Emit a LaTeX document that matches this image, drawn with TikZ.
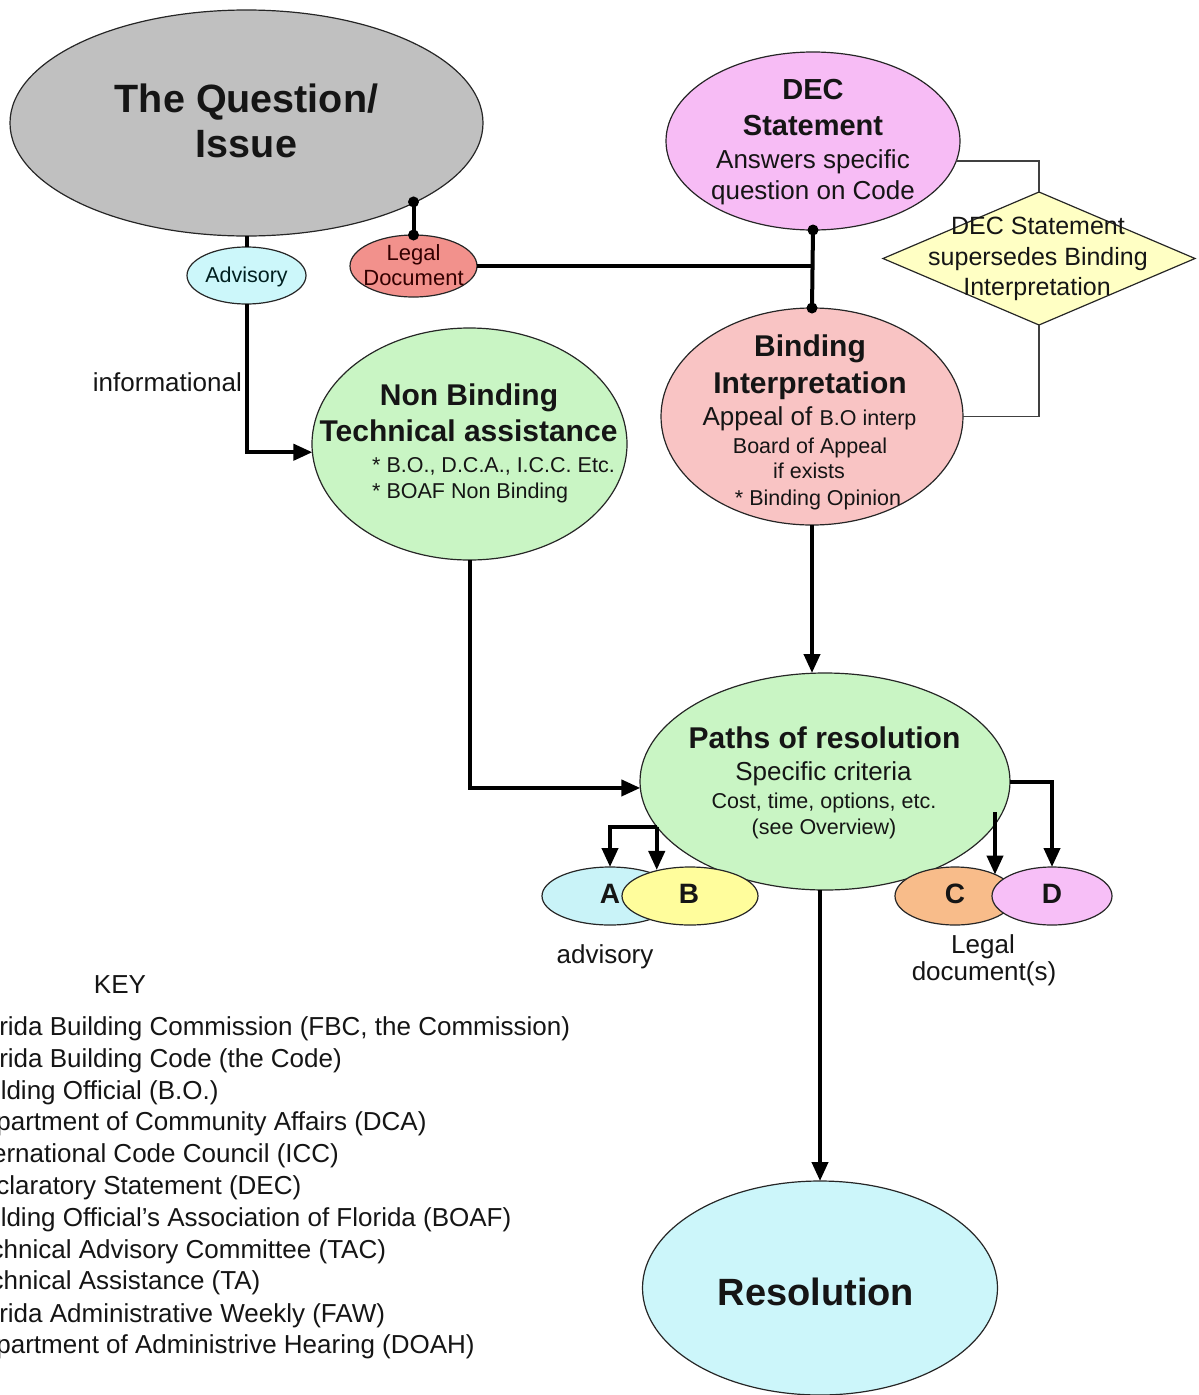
\documentclass[tikz,border=0pt]{standalone}
\usepackage{fontspec}
\setmainfont{Liberation Sans}
\usetikzlibrary{shapes.geometric,arrows.meta}
\newcommand\myfs[1]{\fontsize{#1pt}{#1pt}\selectfont}
\definecolor{qgray}{HTML}{C0C0C0}
\definecolor{advcyan}{HTML}{CCF7FA}
\definecolor{legalred}{HTML}{F2918C}
\definecolor{decpink}{HTML}{F7BCF5}
\definecolor{diayellow}{HTML}{FFFFC4}
\definecolor{bindpink}{HTML}{F9C4C4}
\definecolor{lgreen}{HTML}{C9F5C4}
\definecolor{acyan}{HTML}{C9F3F8}
\definecolor{byellow}{HTML}{FFFD9C}
\definecolor{corange}{HTML}{F8BC8A}
\definecolor{dpink}{HTML}{F7BFF7}
\definecolor{rescyan}{HTML}{CCF6FA}
\definecolor{txtc}{HTML}{151515}
\tikzset{
  shp/.style={draw=black!85, line width=1.2pt, inner sep=0pt, outer sep=0pt},
  ell/.style={shp, ellipse},
  conn/.style={line width=4pt, draw=black},
  thinln/.style={line width=1.6pt, draw=black!75},
  arr/.style={-{Triangle[length=19pt,width=16pt]}},
  dotc/.style={circle, fill=black, inner sep=0pt, minimum size=11pt},
  txt/.style={anchor=base, inner sep=0pt, text=txtc},
  txtw/.style={anchor=base west, inner sep=0pt, text=txtc},
  txte/.style={anchor=base east, inner sep=0pt, text=txtc},
}
\begin{document}
\begin{tikzpicture}[x=1pt,y=-1pt]
\useasboundingbox (0,0) rectangle (1199,1395);
% shapes
\node[ell, fill=qgray, minimum width=473pt, minimum height=226pt] (q) at (246.5,123) {};
\node[ell, fill=advcyan, minimum width=119pt, minimum height=57pt] (adv) at (246.5,275.5) {};
\node[ell, fill=legalred, minimum width=127pt, minimum height=62pt] (legal) at (413.5,266) {};
\node[ell, fill=decpink, minimum width=294pt, minimum height=178pt] (dec) at (813,141) {};
\node[shp, diamond, fill=diayellow, minimum width=312pt, minimum height=133pt] (dia) at (1039,258.5) {};
\node[ell, fill=bindpink, minimum width=302pt, minimum height=217pt] (bind) at (812,416.5) {};
\node[ell, fill=lgreen, minimum width=315pt, minimum height=232pt] (nb) at (469.5,444) {};
\node[ell, fill=lgreen, minimum width=370pt, minimum height=217pt] (paths) at (825,781.5) {};
\node[ell, fill=acyan, minimum width=136pt, minimum height=58pt] (A) at (610,896) {};
\node[ell, fill=byellow, minimum width=136pt, minimum height=58pt] (B) at (690,896) {};
\node[ell, fill=corange, minimum width=120pt, minimum height=58pt] (C) at (955,896) {};
\node[ell, fill=dpink, minimum width=120pt, minimum height=58pt] (D) at (1052,896) {};
\node[ell, fill=rescyan, minimum width=355pt, minimum height=214pt] (res) at (820,1288) {};
% connectors
\draw[conn] (q.south) -- (adv.north);
\draw[conn, arr] (adv.south) |- (nb.183);
\draw[conn] (legal.north) -- (legal.north |- q.-25.5);
\draw[conn] (legal.east) -- (legal.east -| dec.south);
\draw[conn] (dec.south) -- (bind.north);
\draw[thinln] (dec.-8) -| (dia.north);
\draw[thinln] (dia.south) |- (bind.east);
\draw[conn, arr] (bind.south) -- (bind.south |- paths.north);
\draw[conn, arr] (nb.south) |- (paths.182);
\draw[conn, arr] (paths.195) -| (A.north);
\draw[conn, arr] (paths.195) -- (paths.195 |- B.139);
\draw[conn, arr] (paths.east) -| (D.north);
\coordinate (cstart) at (995,812);
\draw[conn, arr] (cstart) -- (cstart |- C.28);
\draw[conn, arr] (res.north |- paths.south) -- (res.north);
% dots
\node[dotc] (d1) at (legal.north |- q.-25.5) {};
\node[dotc] (d2) at (legal.north) {};
\node[dotc] (d3) at (dec.south) {};
\node[dotc] (d4) at (bind.north) {};
% texts
\node[txt, font=\myfs{39.5}\bfseries] (t1) at (246.5,112) {The Question/};
\node[txt, font=\myfs{39.5}\bfseries] (t2) at (246.5,157) {Issue};
\node[txt, font=\myfs{21.5}, text=black!75!teal] (t3) at (246.5,282) {Advisory};
\node[txt, font=\myfs{22}, text=black!80!red] (t4) at (413.5,260) {Legal};
\node[txt, font=\myfs{22}, text=black!80!red] (t5) at (413.5,285) {Document};
\node[txte, font=\myfs{26}] (t6) at (242,391) {informational};
\node[txt, font=\myfs{29}\bfseries] (t7) at (813,99) {DEC};
\node[txt, font=\myfs{29}\bfseries] (t8) at (813,135) {Statement};
\node[txt, font=\myfs{26}] (t9) at (813,168) {Answers specific};
\node[txt, font=\myfs{26}] (t10) at (813,199) {question on Code};
\node[txt, font=\myfs{25}] (t11) at (1038,234) {DEC Statement};
\node[txt, font=\myfs{25}] (t12) at (1038,265) {supersedes Binding};
\node[txt, font=\myfs{25}] (t13) at (1037,295) {Interpretation};
\node[txt, font=\myfs{30}\bfseries] (t14) at (810,356) {Binding};
\node[txt, font=\myfs{30}\bfseries] (t15) at (810,393) {Interpretation};
\node[txt] (t16) at (809.5,425) {\myfs{26}Appeal of \myfs{21.5}B.O interp};
\node[txt, font=\myfs{21.5}] (t17) at (810,453) {Board of Appeal};
\node[txt, font=\myfs{21.5}] (t18) at (809,478) {if exists};
\node[txt, font=\myfs{21.5}] (t19) at (818,505) {* Binding Opinion};
\node[txt, font=\myfs{30}\bfseries] (t20) at (469,405) {Non Binding};
\node[txt, font=\myfs{30}\bfseries] (t21) at (468.5,441) {Technical assistance};
\node[txtw, font=\myfs{21.5}] (t22) at (372,472) {* B.O., D.C.A., I.C.C. Etc.};
\node[txtw, font=\myfs{21.5}] (t23) at (372,498) {* BOAF Non Binding};
\node[txt, font=\myfs{30}\bfseries] (t24) at (824.5,748) {Paths of resolution};
\node[txt, font=\myfs{26}] (t25) at (823.5,780) {Specific criteria};
\node[txt, font=\myfs{21.5}] (t26) at (824,808) {Cost, time, options, etc.};
\node[txt, font=\myfs{21.5}] (t27) at (824,834) {(see Overview)};
\node[txt, font=\myfs{28}\bfseries] (tA) at (610,903) {A};
\node[txt, font=\myfs{28}\bfseries] (tB) at (689,903) {B};
\node[txt, font=\myfs{28}\bfseries] (tC) at (955,903) {C};
\node[txt, font=\myfs{28}\bfseries] (tD) at (1052,903) {D};
\node[txt, font=\myfs{26}] (t28) at (605,963) {advisory};
\node[txt, font=\myfs{26}] (t29) at (983,953) {Legal};
\node[txt, font=\myfs{26}] (t30) at (984,980) {document(s)};
\node[txt, font=\myfs{38}\bfseries] (t31) at (816,1305) {Resolution};
\node[txt, font=\myfs{26}] (key) at (120,993) {KEY};
\node[txtw, font=\myfs{26}] (k1) at (-37,1035) {Florida Building Commission (FBC, the Commission)};
\node[txtw, font=\myfs{26}] (k2) at (-37,1067) {Florida Building Code (the Code)};
\node[txtw, font=\myfs{26}] (k3) at (-37,1099) {Building Official (B.O.)};
\node[txtw, font=\myfs{26}] (k4) at (-37,1130) {Department of Community Affairs (DCA)};
\node[txtw, font=\myfs{26}] (k5) at (-37,1162) {International Code Council (ICC)};
\node[txtw, font=\myfs{26}] (k6) at (-37,1194) {Declaratory Statement (DEC)};
\node[txtw, font=\myfs{26}] (k7) at (-37,1226) {Building Official’s Association of Florida (BOAF)};
\node[txtw, font=\myfs{26}] (k8) at (-37,1258) {Technical Advisory Committee (TAC)};
\node[txtw, font=\myfs{26}] (k9) at (-37,1289) {Technical Assistance (TA)};
\node[txtw, font=\myfs{26}] (k10) at (-37,1322) {Florida Administrative Weekly (FAW)};
\node[txtw, font=\myfs{26}] (k11) at (-37,1353) {Department of Administrive Hearing (DOAH)};
\end{tikzpicture}
\end{document}
